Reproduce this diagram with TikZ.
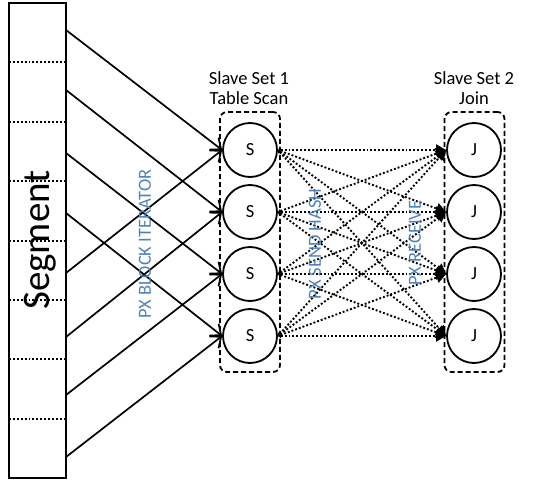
\documentclass[tikz,border=0pt]{standalone}
\usepackage{fontspec}
\setmainfont{Carlito}
\usetikzlibrary{arrows.meta}
\definecolor{pxblue}{HTML}{4F81BD}
\tikzset{
  slave/.style={draw, circle, line width=1.8pt, minimum size=54pt, inner sep=0pt},
  setbox/.style={draw, line width=1.8pt, dash pattern=on 5pt off 3pt, rounded corners=7pt, minimum width=60pt, minimum height=260pt},
  feed/.style={line width=1.7pt, -{Straight Barb[length=9pt,width=15pt]}},
  hash/.style={line width=1.9pt, dotted, {Triangle[length=3pt,width=4pt]}-{Triangle[length=10pt,width=11pt]}},
  pxlabel/.style={text=pxblue, rotate=90, font=\fontsize{18.5}{20}\selectfont}
}
\begin{document}
\begin{tikzpicture}[x=1pt, y=-1pt, font=\fontsize{18.5}{20}\selectfont]
\useasboundingbox (0,0) rectangle (533,482);
% granule segment
\node[draw, line width=2.5pt, minimum width=57pt, minimum height=475pt, inner sep=0pt] (seg) at (37.5,240.5) {};
\foreach \k in {1,...,7}
  \draw[line width=1.9pt, dotted] (9,3+59.4*\k) -- (66,3+59.4*\k);
\node[rotate=90, font=\fontsize{39}{40}\selectfont] (segtext) at (40,240) {Segment};
% slave sets
\node[setbox] (box1) at (250,242) {};
\node[setbox] (box2) at (474.5,242) {};
\node[align=center] (set1) at (249,88) {Slave Set 1\\Table Scan};
\node[align=center] (set2) at (474,88) {Slave Set 2\\Join};
\foreach \i/\y in {1/150,2/212,3/274,4/336} {
  \node[slave] (s\i) at (250,\y) {S};
  \node[slave] (j\i) at (474,\y) {J};
}
% block iterator
\foreach \i/\y in {1/30,2/90,3/153,4/213,5/273,6/337,7/395,8/457}
  \coordinate (g\i) at (66,\y);
\foreach \i/\t in {1/1,2/2,3/3,4/4,5/1,6/2,7/3,8/4}
  \draw[feed] (g\i) -- (s\t.west);
% hash distribution
\foreach \i in {1,...,4}
  \foreach \t in {1,...,4}
    \draw[hash] (s\i.east) -- (j\t.west);
\node[pxlabel] (iter) at (145,244) {PX BLOCK ITERATOR};
\node[pxlabel] (send) at (315,244) {PX SEND HASH};
\node[pxlabel] (recv) at (415,243) {PX RECEIVE};
\end{tikzpicture}
\end{document}
